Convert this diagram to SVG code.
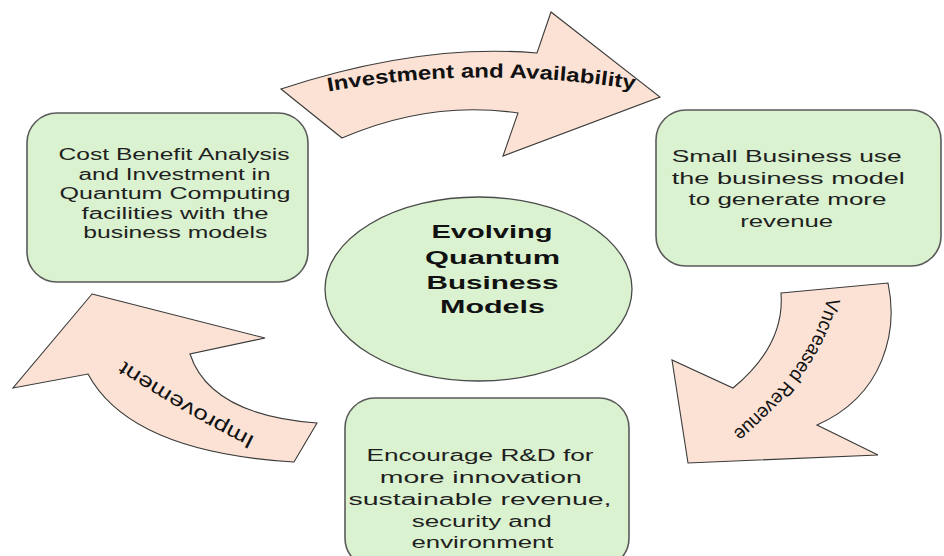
<svg xmlns="http://www.w3.org/2000/svg" width="944" height="556" viewBox="0 0 944 556">
  <style>
    .box { fill: #DAF2D0; stroke: #5a5a5a; stroke-width: 1.6; }
    .hub { fill: #DAF2D0; stroke: #4a4a4a; stroke-width: 1.3; }
    .arrow { fill: #FBE2D5; stroke: #3a3a3a; stroke-width: 1.1; stroke-linejoin: miter; }
    .lbl { font-family: "Liberation Sans", Arial, sans-serif; font-size: 16px; fill: #1f1f1f; text-anchor: middle; }
    .hubtxt { font-family: "Liberation Sans", Arial, sans-serif; font-size: 17.5px; font-weight: bold; fill: #111; text-anchor: middle; }
    .arrtxt { font-family: "Liberation Sans", Arial, sans-serif; fill: #111; text-anchor: middle; }
  </style>
  <defs>
    <path id="pathTop" d="M325,92 Q480,64 638,90"/>
    <path id="pathRight" d="M827,298 Q813,365 733,432"/>
    <path id="pathLeft" d="M257,438 Q185,402 123,360"/>
  </defs>

  <!-- curved block arrows linking the stages -->
  <g id="connectors">
    <g id="arrow-investment">
      <path class="arrow" d="M281,89 L342,138 Q430,100 518,113 L503,156 L660,97 L551,12 L537,53 Q420,43 281,89 Z"/>
      <text class="arrtxt" font-size="19.5" font-weight="bold"><textPath href="#pathTop" startOffset="50%" textLength="308" lengthAdjust="spacingAndGlyphs">Investment and Availability</textPath></text>
    </g>
    <g id="arrow-revenue">
      <path class="arrow" d="M781,293 L888,283 C898,330 885,395 817,425 L878,455 L688,463 L672,360 L733,388 Q785,345 781,293 Z"/>
      <text class="arrtxt" font-size="19.5"><textPath href="#pathRight" startOffset="50%" textLength="168" lengthAdjust="spacingAndGlyphs">Vncreased Revenue</textPath></text>
    </g>
    <g id="arrow-improvement">
      <path class="arrow" d="M92,294 L265,338 L190,354 Q210,415 317,423 L294,462 Q130,452 88,374 L13,388 Z"/>
      <text class="arrtxt" font-size="20"><textPath href="#pathLeft" startOffset="50%" textLength="152" lengthAdjust="spacingAndGlyphs">Improvement</textPath></text>
    </g>
  </g>

  <!-- stage: cost benefit analysis -->
  <g id="node-cost">
    <rect class="box" x="27" y="113" width="281" height="169" rx="30" ry="30"/>
    <text class="lbl" x="174" y="160" textLength="231" lengthAdjust="spacingAndGlyphs">Cost Benefit Analysis</text>
    <text class="lbl" x="174.5" y="179.5" textLength="192" lengthAdjust="spacingAndGlyphs">and Investment in</text>
    <text class="lbl" x="175" y="199" textLength="231" lengthAdjust="spacingAndGlyphs">Quantum Computing</text>
    <text class="lbl" x="175" y="218.5" textLength="187" lengthAdjust="spacingAndGlyphs">facilities with the</text>
    <text class="lbl" x="175.3" y="238" textLength="184" lengthAdjust="spacingAndGlyphs">business models</text>
  </g>

  <!-- stage: small business revenue -->
  <g id="node-small-business">
    <rect class="box" x="656" y="110" width="285" height="156" rx="30" ry="30"/>
    <text class="lbl" x="786.7" y="162" textLength="230" lengthAdjust="spacingAndGlyphs">Small Business use</text>
    <text class="lbl" x="788.3" y="184" textLength="233" lengthAdjust="spacingAndGlyphs">the business model</text>
    <text class="lbl" x="787.5" y="205" textLength="198" lengthAdjust="spacingAndGlyphs">to generate more</text>
    <text class="lbl" x="786.7" y="226.5" textLength="93" lengthAdjust="spacingAndGlyphs">revenue</text>
  </g>

  <!-- stage: R&D -->
  <g id="node-rnd">
    <rect class="box" x="345" y="398" width="284" height="170" rx="30" ry="30"/>
    <text class="lbl" x="480" y="461" textLength="227" lengthAdjust="spacingAndGlyphs">Encourage R&amp;D for</text>
    <text class="lbl" x="480.8" y="483" textLength="202" lengthAdjust="spacingAndGlyphs">more innovation</text>
    <text class="lbl" x="480" y="505" textLength="263" lengthAdjust="spacingAndGlyphs">sustainable revenue,</text>
    <text class="lbl" x="481.7" y="527" textLength="140" lengthAdjust="spacingAndGlyphs">security and</text>
    <text class="lbl" x="482.5" y="548" textLength="142" lengthAdjust="spacingAndGlyphs">environment</text>
  </g>

  <!-- central hub -->
  <g id="node-hub">
    <ellipse class="hub" cx="478.5" cy="289" rx="153.5" ry="92"/>
    <text class="hubtxt" x="492" y="238" textLength="121" lengthAdjust="spacingAndGlyphs">Evolving</text>
    <text class="hubtxt" x="492.5" y="264" textLength="135" lengthAdjust="spacingAndGlyphs">Quantum</text>
    <text class="hubtxt" x="492.5" y="289" textLength="132" lengthAdjust="spacingAndGlyphs">Business</text>
    <text class="hubtxt" x="492.5" y="312.7" textLength="105" lengthAdjust="spacingAndGlyphs">Models</text>
  </g>
</svg>
